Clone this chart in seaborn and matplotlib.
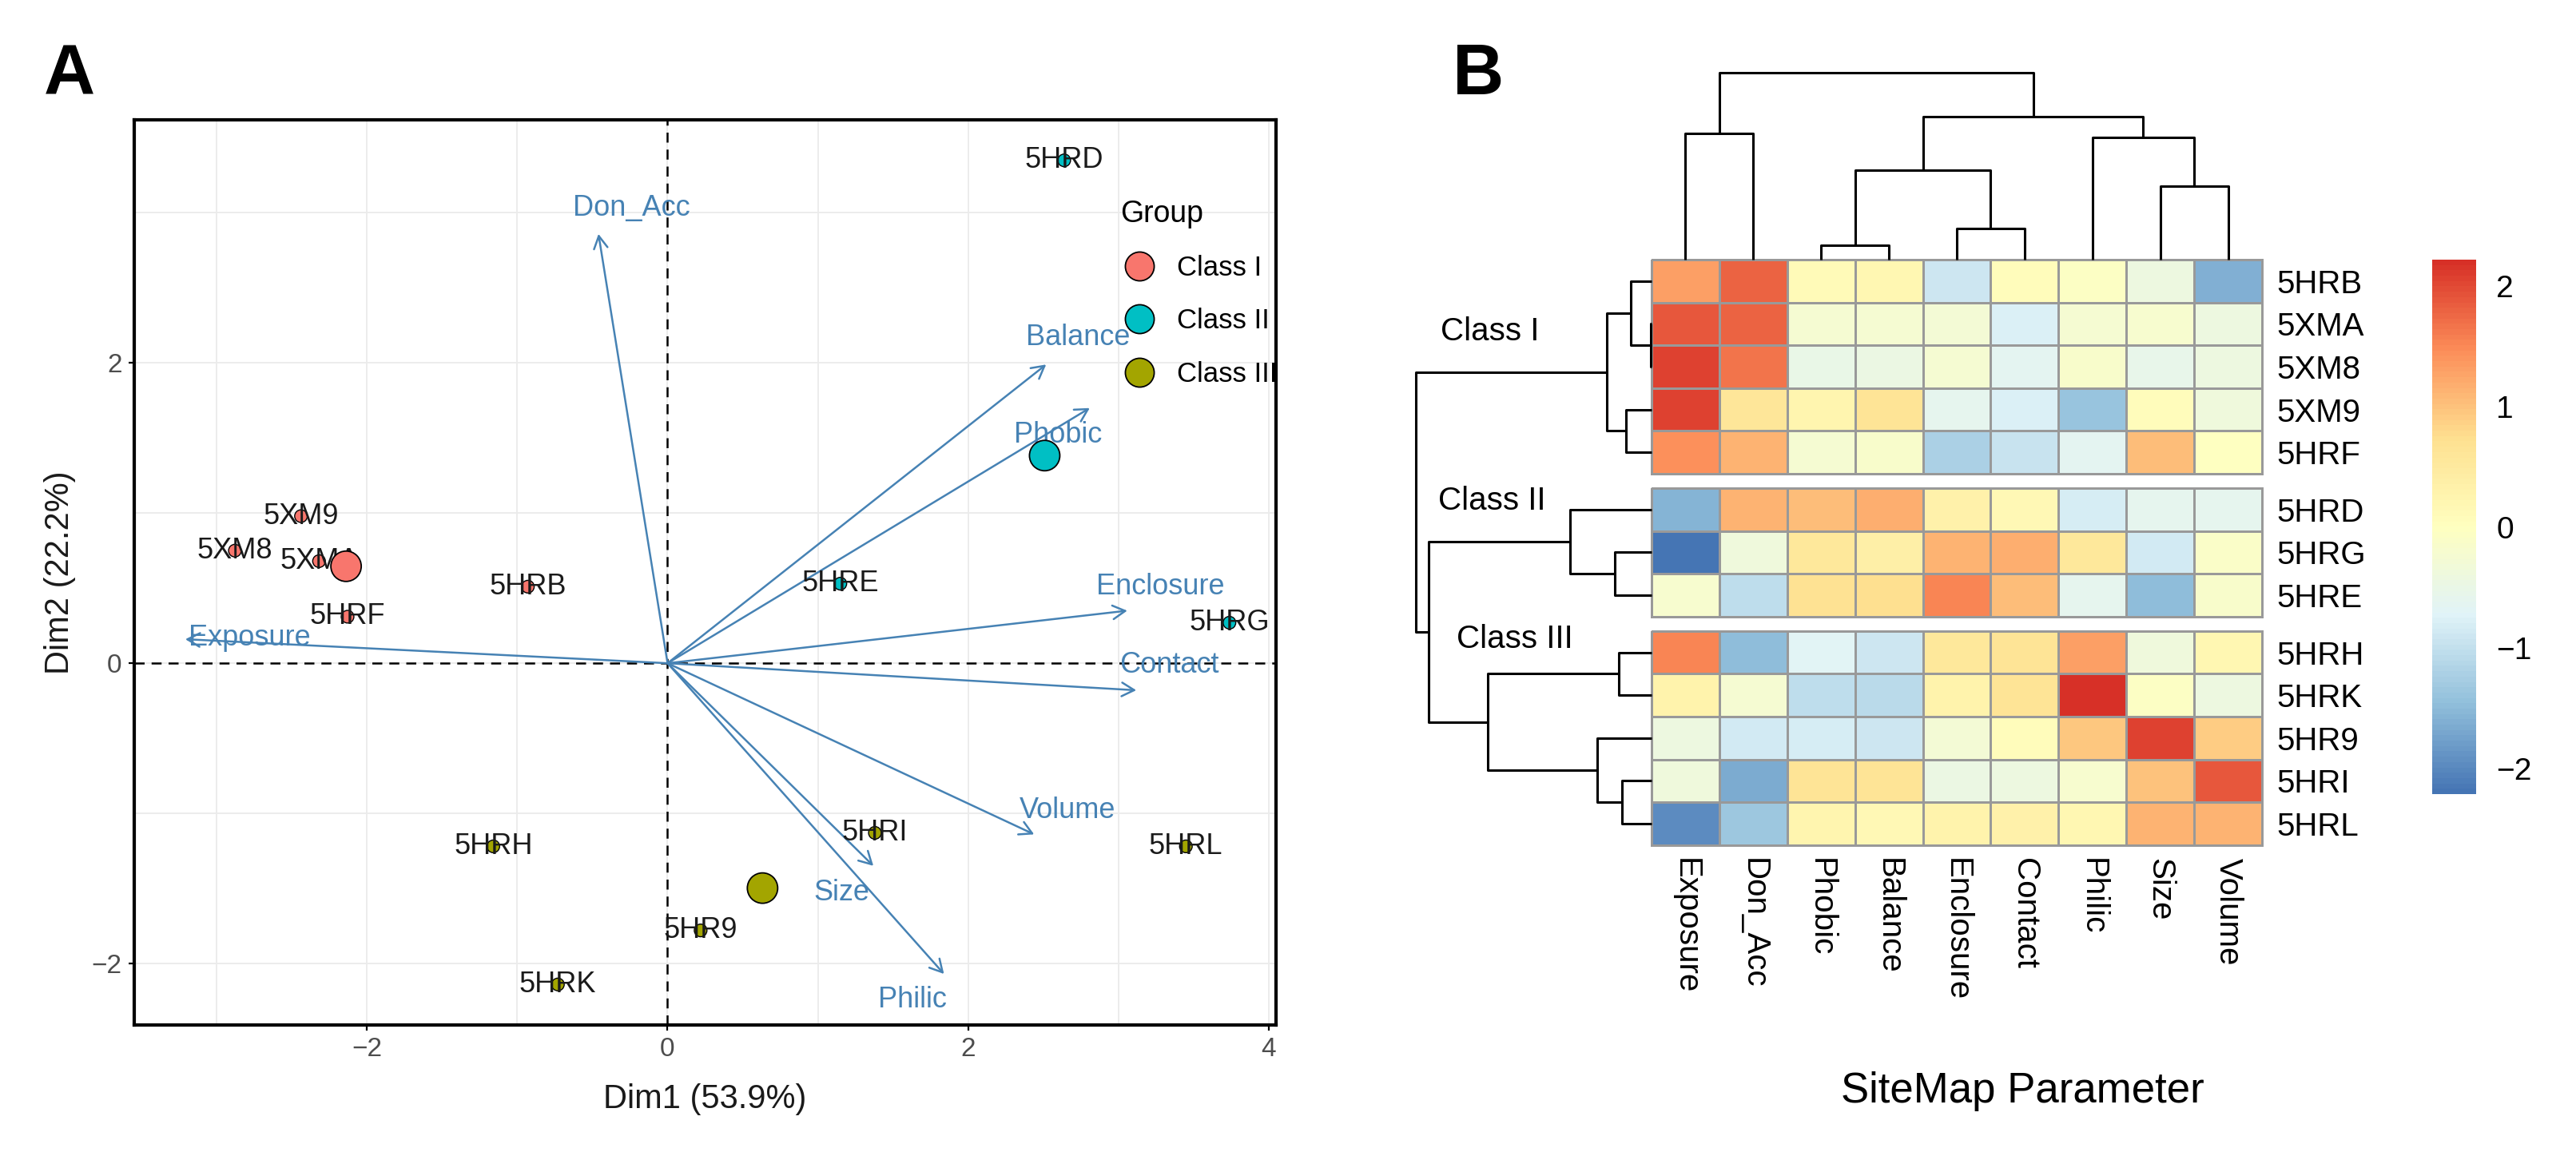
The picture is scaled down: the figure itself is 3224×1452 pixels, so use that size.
import pandas as pd
import seaborn as sns
import matplotlib.pyplot as plt
from matplotlib.colors import LinearSegmentedColormap
from matplotlib.lines import Line2D

plt.rcParams["font.family"] = ["Liberation Sans", "DejaVu Sans"]

# ---------------- panel A: PCA biplot ----------------
samples = ["5XM9", "5XM8", "5XMA", "5HRF", "5HRB",
           "5HRD", "5HRE", "5HRG",
           "5HRH", "5HRK", "5HR9", "5HRI", "5HRL"]
groups = ["Class I"] * 5 + ["Class II"] * 3 + ["Class III"] * 5
dim1 = [-2.44, -2.88, -2.32, -2.13, -0.93, 2.64, 1.15, 3.74, -1.16, -0.73, 0.22, 1.38, 3.45]
dim2 = [0.98, 0.75, 0.68, 0.31, 0.51, 3.35, 0.53, 0.27, -1.22, -2.14, -1.78, -1.13, -1.22]

variables = ["Don_Acc", "Exposure", "Balance", "Phobic", "Enclosure",
             "Contact", "Volume", "Size", "Philic"]
load1 = [-0.46, -3.21, 2.52, 2.81, 3.06, 3.12, 2.44, 1.37, 1.84]
load2 = [2.86, 0.16, 1.99, 1.70, 0.35, -0.18, -1.14, -1.35, -2.07]
# where each variable name sits relative to its arrow tip
label_nudge = [(0.22, 0.17), (0.43, 0.01), (0.21, 0.18), (-0.21, -0.18), (0.22, 0.16),
               (0.22, 0.17), (0.22, 0.16), (-0.21, -0.18), (-0.21, -0.17)]

palette = {"Class I": "#F8766D", "Class II": "#00BFC4", "Class III": "#A3A500"}

# ---------------- panel B: clustered heatmap ----------------
heat_rows = ["5HRB", "5XMA", "5XM8", "5XM9", "5HRF",
             "5HRD", "5HRG", "5HRE",
             "5HRH", "5HRK", "5HR9", "5HRI", "5HRL"]
heat_cols = ["Exposure", "Don_Acc", "Phobic", "Balance", "Enclosure",
             "Contact", "Philic", "Size", "Volume"]
heat_values = [
    [1.30, 1.80, 0.10, 0.20, -0.90, 0.05, -0.05, -0.40, -1.60],
    [1.90, 1.80, -0.25, -0.25, -0.30, -0.75, -0.25, -0.20, -0.40],
    [2.05, 1.65, -0.50, -0.45, -0.25, -0.65, -0.15, -0.55, -0.40],
    [2.05, 0.60, 0.25, 0.65, -0.60, -0.75, -1.40, 0.05, -0.35],
    [1.45, 1.15, -0.25, -0.15, -1.20, -0.95, -0.65, 1.05, 0.00],
    [-1.55, 1.15, 1.05, 1.20, 0.35, 0.15, -0.80, -0.60, -0.60],
    [-2.21, -0.35, 0.55, 0.40, 1.15, 1.20, 0.55, -0.85, -0.10],
    [-0.20, -1.05, 0.70, 0.75, 1.55, 1.05, -0.60, -1.50, -0.15],
    [1.55, -1.50, -0.70, -0.90, 0.55, 0.65, 1.30, -0.35, 0.20],
    [0.30, -0.25, -1.05, -1.10, 0.30, 0.65, 2.22, -0.05, -0.40],
    [-0.40, -0.85, -0.80, -0.90, -0.30, 0.05, 0.95, 2.05, 0.90],
    [-0.35, -1.65, 0.65, 0.65, -0.45, -0.40, -0.20, 1.00, 1.90],
    [-1.95, -1.35, 0.25, 0.15, 0.30, 0.35, 0.20, 1.15, 1.15],
]
row_blocks = [5, 3, 5]
class_names = ["Class I", "Class II", "Class III"]

# dendrograms: (merge height, left, right), leaves are display indices
row_tree = (7.35,
            (1.39, (0.65, 0, (0.02, 1, 2)), (0.80, 3, 4)),
            (6.95,
             (2.53, 5, (1.15, 6, 7)),
             (5.10, (1.01, 8, 9), (1.69, 10, (0.93, 11, 12)))))
col_tree = (5.83,
            (3.93, 0, 1),
            (4.45,
             (2.78, (0.45, 2, 3), (0.98, 4, 5)),
             (3.80, 6, (2.30, 7, 8))))

W, H = 3224, 1452
fig = plt.figure(figsize=(W / 100, H / 100), dpi=100)


def box(l, t, r, b):
    return [l / W, 1 - b / H, (r - l) / W, (b - t) / H]


# ======== A ========
ax = fig.add_axes(box(168, 150, 1597, 1283))
pts = pd.DataFrame({"label": samples, "Group": groups, "Dim1": dim1, "Dim2": dim2})
cent = pts.groupby("Group", as_index=False)[["Dim1", "Dim2"]].mean()

ax.set_xlim(-3.55, 4.05)
ax.set_ylim(-2.41, 3.62)
ax.set_xticks([-2, 0, 2, 4])
ax.set_yticks([-2, 0, 2])
ax.set_xticks([-3, -1, 1, 3], minor=True)
ax.set_yticks([-1, 1, 3], minor=True)
ax.grid(which="both", color="#EBEBEB", lw=1.3)
ax.set_axisbelow(True)
ax.tick_params(which="minor", length=0)
ax.tick_params(which="major", length=5, width=1.6, color="black",
               labelsize=24, labelcolor="#4D4D4D", pad=6)
for sp in ax.spines.values():
    sp.set_linewidth(3)
    sp.set_color("black")

ax.axhline(0, color="black", ls=(0, (5, 3.5)), lw=1.8, zorder=1)
ax.axvline(0, color="black", ls=(0, (5, 3.5)), lw=1.8, zorder=1)

for v, x, y, (dx, dy) in zip(variables, load1, load2, label_nudge):
    ax.annotate("", xy=(x, y), xytext=(0, 0), zorder=2,
                arrowprops=dict(arrowstyle="->,head_length=0.4,head_width=0.22",
                                mutation_scale=28, color="#4682B4", lw=1.8,
                                shrinkA=0, shrinkB=0))
    ax.text(x + dx, y + dy, v, color="#4682B4", fontsize=26,
            ha="center", va="center", zorder=2)

sns.scatterplot(data=pts, x="Dim1", y="Dim2", hue="Group", palette=palette,
                s=130, edgecolor="black", linewidth=1, legend=False, ax=ax, zorder=3)
for _, r in pts.iterrows():
    ax.text(r["Dim1"], r["Dim2"], r["label"], ha="center", va="center",
            fontsize=26, color="#1A1A1A", zorder=4)
sns.scatterplot(data=cent, x="Dim1", y="Dim2", hue="Group", palette=palette,
                s=750, edgecolor="black", linewidth=1.3, legend=False, ax=ax, zorder=5)

handles = [Line2D([], [], ls="", marker="o", markersize=26, markerfacecolor=palette[g],
                  markeredgecolor="black", markeredgewidth=1.3) for g in class_names]
ax.legend(handles, class_names, title="Group", loc="upper left",
          bbox_to_anchor=(0.8635, 0.912), frameon=False, fontsize=25,
          title_fontsize=27, handlelength=1.4, handletextpad=0.64,
          labelspacing=0.96, borderpad=0, borderaxespad=0, alignment="left")

ax.set_xlabel("Dim1 (53.9%)", fontsize=30, color="#1A1A1A", labelpad=19)
ax.set_ylabel("Dim2 (22.2%)", fontsize=30, color="#1A1A1A", labelpad=14)

fig.text(55 / W, 1 - 118 / H, "A", fontsize=64, fontweight="bold", va="baseline")
fig.text(1818 / W, 1 - 118 / H, "B", fontsize=64, fontweight="bold", va="baseline")

# ======== B ========
cmap = LinearSegmentedColormap.from_list(
    "pheat", ["#4575B4", "#91BFDB", "#E0F3F8", "#FFFFBF", "#FEE090", "#FC8D59", "#D73027"], N=100)
heat = pd.DataFrame(heat_values, index=heat_rows, columns=heat_cols)
vmin, vmax = heat.values.min(), heat.values.max()

hm_l, hm_r, hm_t = 2067, 2831, 325
cell_h, gap = 53.6, 18
cax = fig.add_axes(box(3044, 325, 3099, 994))

top = hm_t
start = 0
leaf_pos = []
cbar = None
for bi, n in enumerate(row_blocks):
    block = heat.iloc[start:start + n]
    bax = fig.add_axes(box(hm_l, top, hm_r, top + n * cell_h))
    last = bi == len(row_blocks) - 1
    sns.heatmap(block, ax=bax, cmap=cmap, vmin=vmin, vmax=vmax,
                linewidths=2, linecolor="#999999",
                cbar=(bi == 0), cbar_ax=cax if bi == 0 else None,
                cbar_kws={"ticks": [-2, -1, 0, 1, 2]} if bi == 0 else None,
                xticklabels=last, yticklabels=True)
    mesh = bax.collections[0]
    mesh.set_clip_on(False)
    if bi == 0:
        cbar = mesh.colorbar
    bax.set_xlabel("")
    bax.set_ylabel("")
    bax.tick_params(axis="y", left=False, right=False, labelleft=False,
                    labelright=True, length=0, pad=13, labelsize=29, labelrotation=0)
    if last:
        bax.tick_params(axis="x", length=0, pad=12, labelsize=29)
        plt.setp(bax.get_xticklabels(), rotation=270, ha="center", va="top")
    for i in range(n):
        leaf_pos.append((top - hm_t) / cell_h + i + 0.5)
    top += n * cell_h + gap
    start += n

cax.tick_params(length=0, labelsize=28, pad=18)
if cbar is not None:
    cbar.outline.set_visible(False)


def draw_tree(a, node, pos, orient):
    if isinstance(node, int):
        return pos[node], 0.0
    h, left, right = node
    pa, ha = draw_tree(a, left, pos, orient)
    pb, hb = draw_tree(a, right, pos, orient)
    xs, ys = [pa, pa, pb, pb], [ha, h, h, hb]
    if orient == "top":
        a.plot(xs, ys, color="black", lw=2.2, clip_on=False, solid_capstyle="butt")
    else:
        a.plot(ys, xs, color="black", lw=2.2, clip_on=False, solid_capstyle="butt")
    return (pa + pb) / 2, h


rax = fig.add_axes(box(1772, hm_t, hm_l, top - gap))
draw_tree(rax, row_tree, leaf_pos, "left")
rax.set_xlim(row_tree[0], 0)
rax.set_ylim((top - gap - hm_t) / cell_h, 0)
rax.axis("off")

tax = fig.add_axes(box(hm_l, 91, hm_r, hm_t))
draw_tree(tax, col_tree, [i + 0.5 for i in range(len(heat_cols))], "top")
tax.set_xlim(0, len(heat_cols))
tax.set_ylim(0, col_tree[0])
tax.axis("off")

for name, (x, y) in zip(class_names, [(1803, 415), (1800, 627), (1823, 800)]):
    fig.text(x / W, 1 - y / H, name, fontsize=29, ha="left", va="center")

fig.text(2531 / W, 1 - 1366 / H, "SiteMap Parameter", fontsize=38, ha="center", va="center")

fig.savefig("out.png", dpi=100)
